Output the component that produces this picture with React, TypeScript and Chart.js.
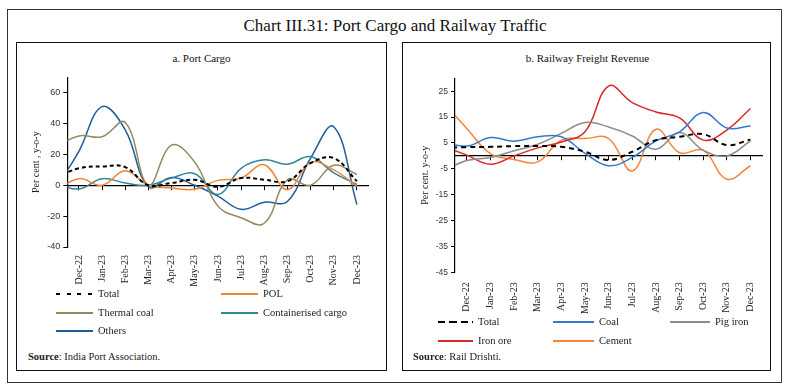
import React, { useEffect, useRef } from 'react';
import { Chart, registerables } from 'chart.js';

Chart.register(...registerables);

// ---------- DATA ----------
// Lead-in month: only a short stub of it is visible, clipped at the y-axis.
const leadMonth = 'Nov-22';
const months = ['Dec-22', 'Jan-23', 'Feb-23', 'Mar-23', 'Apr-23', 'May-23', 'Jun-23', 'Jul-23', 'Aug-23', 'Sep-23', 'Oct-23', 'Nov-23', 'Dec-23'];

// Panel a: Port Cargo (per cent, y-o-y), values for Nov-22, Dec-22 ... Dec-23
const portTotal = [5, 11, 12.2, 11.8, 0, 1.5, 3.6, -1, 4.7, 3.6, 2.6, 14.4, 17.6, 2.6];
const portPOL = [-3.5, 4.3, 0, 9.4, 0, -1.7, -2.6, 3.2, 4.7, 13.3, -2.8, 14.8, 10, -0.6];
const portThermalCoal = [25, 32, 31.5, 40.7, 0, 26, 15, -13.5, -21, -24.6, 3.6, 0, 13, 7];
const portContainerised = [1.2, -2.4, 4.3, 1.5, 0, 4.7, 7.5, -6, 11, 16.5, 13.7, 18.6, 8, 0.5];
const portOthers = [-2, 22, 51, 36, -1, 5, 0, -7, -15.6, -11, -10.5, 17.6, 38, -12.4];
const portTicks = [-40, -20, 0, 20, 40, 60];

// Panel b: Railway Freight Revenue (per cent, y-o-y), values for Nov-22, Dec-22 ... Dec-23
const railTotal = [3.0, 3.4, 3.5, 3.8, 3.8, 3.5, 1.6, -1.6, 1.6, 6.1, 7.4, 8.4, 4.2, 6.3];
const railCoal = [5.2, 3.8, 7.1, 5.7, 7.4, 7.4, 1.0, -3.8, -0.6, 5.8, 9.3, 16.8, 10.8, 11.6];
const railPigIron = [-5.8, -1.8, -0.6, 2, 4.5, 8.7, 12.9, 11.2, 7.7, 2.6, 9, 2.2, 0, 5.8];
const railIronOre = [3.7, 0.3, -3.2, 0, 3.1, 5.4, 9.3, 27, 20.6, 17, 14.7, 6.1, 10, 18.3];
const railCement = [20.8, 10.6, 0.9, -1.4, -2.3, 6.1, 6.7, 6.7, -5.8, 10.3, 1.2, 2.2, -9, -3.8];
const railTicks = [-45, -35, -25, -15, -5, 5, 15, 25];

const portNames = ['Total', 'POL', 'Thermal coal', 'Containerised cargo', 'Others'];
const railNames = ['Total', 'Coal', 'Pig iron', 'Iron ore', 'Cement'];

// ---------- STYLES ----------
const SERIF = '"Liberation Serif", "DejaVu Serif", serif';
const SANS = '"Liberation Sans", Arial, sans-serif';

const portColors: Record<string, string> = {
  'Total': '#000000',
  'POL': '#F08535',
  'Thermal coal': '#928B5B',
  'Containerised cargo': '#2F879B',
  'Others': '#1F5C9A',
};
const railColors: Record<string, string> = {
  'Total': '#000000',
  'Coal': '#3579CC',
  'Pig iron': '#8C8C8C',
  'Iron ore': '#D8282B',
  'Cement': '#F5853A',
};

type Spec = {
  names: string[];
  values: number[][];
  colors: Record<string, string>;
  ticks: number[];
  yMin: number;
  yMax: number;
  yTitle: string;
  yTitlePad: number;
  yWidth: number;
  xHeight: number;
  padTop: number;
  padRight: number;
  xLabelPad: number;
  xFont: number;
  yFont: number;
  dash: number[];
  left: number;
  top: number;
  width: number;
  height: number;
};

function buildConfig(s: Spec): any {
  const labels = [leadMonth, ...months];
  return {
    type: 'line',
    data: {
      labels,
      datasets: s.names.map((n, i) => ({
        label: n,
        data: s.values[i],
        borderColor: s.colors[n],
        backgroundColor: s.colors[n],
        borderWidth: n === 'Total' ? 2 : 1.5,
        borderDash: n === 'Total' ? s.dash : [],
        pointRadius: 0,
        pointHoverRadius: 0,
        tension: 0.4,
        fill: false,
      })),
    },
    options: {
      animation: false,
      responsive: false,
      maintainAspectRatio: false,
      events: [],
      layout: { padding: { top: s.padTop, right: s.padRight, left: 0, bottom: 0 } },
      plugins: { legend: { display: false }, tooltip: { enabled: false }, title: { display: false } },
      scales: {
        x: {
          type: 'category',
          position: 'bottom',
          min: months[0],
          offset: true,
          grid: { display: false },
          border: { display: false },
          ticks: {
            autoSkip: false,
            maxRotation: 90,
            minRotation: 90,
            padding: s.xLabelPad,
            color: '#222',
            font: { family: SERIF, size: s.xFont },
          },
          afterFit: (sc: any) => { sc.height = s.xHeight; },
        },
        x0: {
          type: 'category',
          position: { y: 0 },
          min: months[0],
          offset: true,
          grid: { display: true, drawOnChartArea: false, drawTicks: true, tickLength: 4, color: '#000', lineWidth: 1 },
          border: { display: true, color: '#000', width: 1.2 },
          ticks: { display: false, autoSkip: false },
        },
        y: {
          type: 'linear',
          min: s.yMin,
          max: s.yMax,
          afterBuildTicks: (sc: any) => { sc.ticks = s.ticks.map((v) => ({ value: v })); },
          grid: { display: true, drawOnChartArea: false, drawTicks: true, tickLength: 4, color: '#000', lineWidth: 1 },
          border: { display: true, color: '#000', width: 1.2 },
          ticks: { padding: 3, color: '#333', font: { family: SANS, size: s.yFont } },
          title: {
            display: true,
            text: s.yTitle,
            color: '#222',
            font: { family: SERIF, size: 10 },
            padding: { top: s.yTitlePad, bottom: 0 },
          },
          afterFit: (sc: any) => { sc.width = s.yWidth; },
        },
      },
    },
  };
}

function LineChart({ spec }: { spec: Spec }) {
  const ref = useRef<HTMLCanvasElement | null>(null);
  useEffect(() => {
    if (!ref.current) return;
    const chart = new Chart(ref.current, buildConfig(spec));
    return () => chart.destroy();
  }, []);
  return (
    <canvas
      ref={ref}
      width={spec.width}
      height={spec.height}
      style={{ position: 'absolute', left: spec.left, top: spec.top, width: spec.width, height: spec.height }}
    />
  );
}

const portSpec: Spec = {
  names: portNames,
  values: [portTotal, portPOL, portThermalCoal, portContainerised, portOthers],
  colors: portColors,
  ticks: portTicks,
  yMin: -40,
  yMax: 70,
  yTitle: 'Per cent , y-o-y',
  yTitlePad: 10.7,
  yWidth: 47.3,
  xHeight: 48,
  padTop: 17.3,
  padRight: 11.5,
  xLabelPad: 0,
  xFont: 10,
  yFont: 9,
  dash: [4, 3],
  left: 20,
  top: 60,
  width: 360,
  height: 235,
};

const railSpec: Spec = {
  names: railNames,
  values: [railTotal, railCoal, railPigIron, railIronOre, railCement],
  colors: railColors,
  ticks: railTicks,
  yMin: -45,
  yMax: 30,
  yTitle: 'Per cent. y-o-y',
  yTitlePad: 13,
  yWidth: 49,
  xHeight: 47.7,
  padTop: 18.3,
  padRight: 5.7,
  xLabelPad: 2,
  xFont: 10,
  yFont: 8.5,
  dash: [5, 4],
  left: 406,
  top: 60,
  width: 362,
  height: 260,
};

function LegendItem({ x, y, lineW, text, color, dashed, thick, dash }: any) {
  const lineStyle: React.CSSProperties = dashed
    ? {
        position: 'absolute', left: x, top: y - (thick ? 1 : 0.75), width: lineW, height: thick ? 2 : 1.5,
        background: `repeating-linear-gradient(to right, ${color} 0 ${dash[0]}px, transparent ${dash[0]}px ${dash[0] + dash[1]}px)`,
      }
    : { position: 'absolute', left: x, top: y - 0.75, width: lineW, height: 1.5, background: color };
  return (
    <>
      <div style={lineStyle} />
      <div style={{ position: 'absolute', left: x + lineW + 5, top: y - 7, lineHeight: '14px', fontSize: 10.5, fontFamily: SERIF, color: '#222', whiteSpace: 'nowrap' }}>{text}</div>
    </>
  );
}

export default function App() {
  const portLegendPos = [
    { x: 56, y: 294 }, { x: 221, y: 294 },
    { x: 56, y: 313 }, { x: 221, y: 313 },
    { x: 56, y: 331 },
  ];
  const railLegendPos = [
    { x: 438, y: 322, w: 35 }, { x: 553, y: 322, w: 41 }, { x: 670, y: 322, w: 40 },
    { x: 438, y: 341, w: 35 }, { x: 553, y: 341, w: 41 },
  ];
  return (
    <div style={{ position: 'absolute', left: 0, top: 0, width: 787, height: 389, background: '#fff', overflow: 'hidden' }}>
      <div style={{ position: 'absolute', left: 7, top: 9, width: 775, height: 374, border: '1px solid #333', boxSizing: 'border-box' }} />
      <div style={{ position: 'absolute', left: 0, top: 16, width: 790, textAlign: 'center', fontFamily: SERIF, fontSize: 17, lineHeight: '20px', color: '#111' }}>
        Chart III.31: Port Cargo and Railway Traffic
      </div>
      <div style={{ position: 'absolute', left: 16, top: 42, width: 371, height: 329, border: '1.5px solid #111', boxSizing: 'border-box' }} />
      <div style={{ position: 'absolute', left: 402, top: 42, width: 369, height: 329, border: '1.5px solid #111', boxSizing: 'border-box' }} />
      <div style={{ position: 'absolute', left: 16, top: 51, width: 371, textAlign: 'center', fontFamily: SERIF, fontSize: 11, lineHeight: '14px', color: '#111' }}>a. Port Cargo</div>
      <div style={{ position: 'absolute', left: 402, top: 51, width: 371, textAlign: 'center', fontFamily: SERIF, fontSize: 11, lineHeight: '14px', color: '#111' }}>b. Railway Freight Revenue</div>

      <LineChart spec={portSpec} />
      <LineChart spec={railSpec} />

      {portNames.map((n, i) => (
        <LegendItem key={'p' + n} x={portLegendPos[i].x} y={portLegendPos[i].y} lineW={37} text={n}
          color={portColors[n]} dashed={n === 'Total'} thick={false} dash={[4, 6.7]} />
      ))}
      {railNames.map((n, i) => (
        <LegendItem key={'r' + n} x={railLegendPos[i].x} y={railLegendPos[i].y} lineW={railLegendPos[i].w} text={n}
          color={railColors[n]} dashed={n === 'Total'} thick={true} dash={[7.3, 4]} />
      ))}

      <div style={{ position: 'absolute', left: 28, top: 350, fontFamily: SERIF, fontSize: 10.5, lineHeight: '14px', color: '#222', whiteSpace: 'nowrap' }}>
        <b>Source</b>: India Port Association.
      </div>
      <div style={{ position: 'absolute', left: 413, top: 350, fontFamily: SERIF, fontSize: 10.5, lineHeight: '14px', color: '#222', whiteSpace: 'nowrap' }}>
        <b>Source</b>: Rail Drishti.
      </div>
    </div>
  );
}
